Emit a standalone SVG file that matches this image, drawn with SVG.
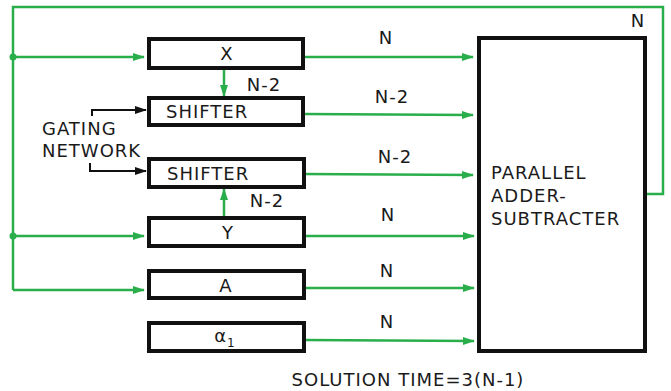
<svg xmlns="http://www.w3.org/2000/svg" width="671" height="391" viewBox="0 0 671 391">
<style>
.box{fill:#fff;stroke:#111;stroke-width:4}
.g{fill:none;stroke:#2aae4c;stroke-width:2.5}
.k{fill:none;stroke:#111;stroke-width:2}
text{font-family:"DejaVu Sans","Liberation Sans",sans-serif;fill:#1a1a1a;font-size:18px;letter-spacing:1px}
.c{text-anchor:middle}
</style>
<defs>
<marker id="ag" markerWidth="12" markerHeight="10" refX="11" refY="5" orient="auto" markerUnits="userSpaceOnUse"><path d="M0,1 L12,5 L0,9 Z" fill="#2aae4c"/></marker>
<marker id="ak" markerWidth="12" markerHeight="10" refX="11" refY="5" orient="auto" markerUnits="userSpaceOnUse"><path d="M0,1 L12,5 L0,9 Z" fill="#111"/></marker>
</defs>
<rect width="671" height="391" fill="#fff"/>
<g id="connectors">
<polyline class="g" points="13,290 13,7 663,7 663,194 646,194"/>
<circle cx="13" cy="57" r="3.5" fill="#2aae4c"/>
<circle cx="13" cy="236" r="3.5" fill="#2aae4c"/>
<line class="g" x1="13" y1="57" x2="144" y2="57" marker-end="url(#ag)"/>
<line class="g" x1="13" y1="236" x2="144" y2="236" marker-end="url(#ag)"/>
<line class="g" x1="13" y1="290" x2="144" y2="290" marker-end="url(#ag)"/>
<line class="g" x1="303" y1="57" x2="473" y2="57" marker-end="url(#ag)"/>
<line class="g" x1="303" y1="114" x2="473" y2="115" marker-end="url(#ag)"/>
<line class="g" x1="303" y1="174" x2="473" y2="175" marker-end="url(#ag)"/>
<line class="g" x1="303" y1="236" x2="474" y2="236" marker-end="url(#ag)"/>
<line class="g" x1="303" y1="288" x2="474" y2="288" marker-end="url(#ag)"/>
<line class="g" x1="303" y1="340" x2="474" y2="341" marker-end="url(#ag)"/>
<line class="g" x1="224" y1="68" x2="224" y2="96" marker-end="url(#ag)"/>
<line class="g" x1="224" y1="216" x2="224" y2="189" marker-end="url(#ag)"/>
<polyline class="k" points="92,116 92,110 146,110" marker-end="url(#ak)"/>
<polyline class="k" points="90,163 90,171 146,171" marker-end="url(#ak)"/>
<text x="638" y="27" class="c">N</text>
<text x="386" y="44" class="c">N</text>
<text x="392" y="103" class="c">N-2</text>
<text x="395" y="163" class="c">N-2</text>
<text x="388" y="221" class="c">N</text>
<text x="387" y="277" class="c">N</text>
<text x="387" y="328" class="c">N</text>
<text x="264" y="91" class="c">N-2</text>
<text x="267" y="207" class="c">N-2</text>
</g>
<g id="gating"><text x="42" y="135">GATING</text><text x="42" y="157">NETWORK</text></g>
<g id="x"><rect class="box" x="149" y="39" width="154" height="29"/><text x="227" y="60" class="c">X</text></g>
<g id="shifter1"><rect class="box" x="149" y="98" width="154" height="27"/><text x="166" y="118">SHIFTER</text></g>
<g id="shifter2"><rect class="box" x="149" y="159" width="155" height="28"/><text x="167" y="180">SHIFTER</text></g>
<g id="y"><rect class="box" x="149" y="218" width="155" height="28"/><text x="228" y="239" class="c">Y</text></g>
<g id="a"><rect class="box" x="149" y="271" width="155" height="27"/><text x="226" y="292" class="c">A</text></g>
<g id="alpha"><rect class="box" x="149" y="323" width="155" height="28"/><text x="225" y="342" class="c">α<tspan font-size="12" dy="5">1</tspan></text></g>
<g id="adder"><rect class="box" x="479" y="38" width="166" height="313"/>
<text x="491" y="179">PARALLEL</text><text x="491" y="202">ADDER-</text><text x="491" y="225">SUBTRACTER</text></g>
<text x="408" y="386" class="c">SOLUTION TIME=3(N-1)</text>
</svg>
